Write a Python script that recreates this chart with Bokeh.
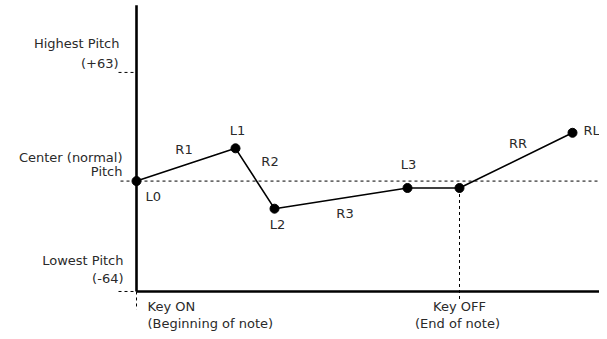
from bokeh.plotting import figure
from bokeh.models import Range1d
from bokeh.core.properties import value
from bokeh.embed import file_html
from bokeh.resources import INLINE

# ---- data (time in arbitrary units, pitch in -64..+63) ----
point_names = ["L0", "L1", "L2", "L3", "OFF", "RL"]
times = [0, 99, 138, 271, 323, 436]
pitches = [0, 19, -16, -4, -4, 28]
rate_labels = ["R1", "R2", "R3", "RR"]
pitch_ticks = [63, 0, -64]
pitch_tick_text = [["Highest Pitch", "(+63)"], ["Center (normal)", "Pitch"], ["Lowest Pitch", "(-64)"]]
key_on_text = ["Key ON", "(Beginning of note)"]
key_off_text = ["Key OFF", "(End of note)"]
time_end = 470

FONT = value("DejaVu Sans")
FS = "13px"
TC = "#2a2a2a"

p = figure(width=599, height=331, output_backend="svg", toolbar_location=None,
           min_border=0, x_axis_type=None, y_axis_type=None,
           x_range=Range1d(-136, 463), y_range=Range1d(-87.2, 104.7))
p.grid.visible = False
p.outline_line_color = None

lo, hi = pitch_ticks[2], pitch_ticks[0]
t_off = times[4]

# dashed guide lines
p.line([-18, times[0]], [hi, hi], line_color="black", line_width=1, line_dash="3 3")
p.line([-18, times[0]], [lo, lo], line_color="black", line_width=1, line_dash="3 3")
p.line([-16, time_end], [0, 0], line_color="black", line_width=1, line_dash="3 3")
p.line([times[0], times[0]], [lo, -74.5], line_color="black", line_width=1, line_dash="3 3")
p.line([t_off, t_off], [pitches[4], -70], line_color="black", line_width=1, line_dash="3 3")

# axes
p.line([times[0], times[0]], [lo, 102], line_color="black", line_width=2.6)
p.line([times[0], time_end], [lo, lo], line_color="black", line_width=2.6)

# envelope
p.line(times, pitches, line_color="black", line_width=1.6)
p.scatter(times, pitches, size=9, fill_color="black", line_color="black")

def txt(x, y, s, align="center", baseline="middle", xo=0, yo=0):
    p.text([x], [y], text=[s], text_font=FONT, text_font_size=FS, text_color=TC,
           text_align=align, text_baseline=baseline, x_offset=xo, y_offset=yo)

# point labels
txt(times[0], pitches[0], point_names[0], align="left", xo=9, yo=15)
txt(times[1], pitches[1], point_names[1], xo=2, yo=-18)
txt(times[2], pitches[2], point_names[2], xo=3, yo=16)
txt(times[3], pitches[3], point_names[3], xo=1, yo=-23)
txt(times[5], pitches[5], point_names[5], align="left", xo=11, yo=-2)

# rate labels (around segment midpoints)
def mid(i, j):
    return (times[i] + times[j]) / 2, (pitches[i] + pitches[j]) / 2
x, y = mid(0, 1); txt(x, y, rate_labels[0], xo=-2, yo=-15)
x, y = mid(1, 2); txt(x, y, rate_labels[1], xo=15, yo=-17)
x, y = mid(2, 3); txt(x, y, rate_labels[2], xo=4, yo=15)
x, y = mid(4, 5); txt(x, y, rate_labels[3], xo=2, yo=-17)

# pitch labels on the left
txt(times[0], pitch_ticks[0], pitch_tick_text[0][0], align="right", xo=-17, yo=-29)
txt(times[0], pitch_ticks[0], pitch_tick_text[0][1], align="right", xo=-18, yo=-9)
txt(times[0], pitch_ticks[1], pitch_tick_text[1][0], align="right", xo=-14, yo=-24)
txt(times[0], pitch_ticks[1], pitch_tick_text[1][1], align="right", xo=-14, yo=-10)
txt(times[0], pitch_ticks[2], pitch_tick_text[2][0], align="right", xo=-13, yo=-31)
txt(times[0], pitch_ticks[2], pitch_tick_text[2][1], align="right", xo=-13, yo=-13)

# key labels below
txt(times[0], lo, key_on_text[0], align="left", xo=11, yo=15)
txt(times[0], lo, key_on_text[1], align="left", xo=11, yo=32)
txt(t_off, lo, key_off_text[0], xo=0, yo=15)
txt(t_off, lo, key_off_text[1], xo=-2, yo=32)

open("out.html", "w").write(file_html(p, INLINE))
